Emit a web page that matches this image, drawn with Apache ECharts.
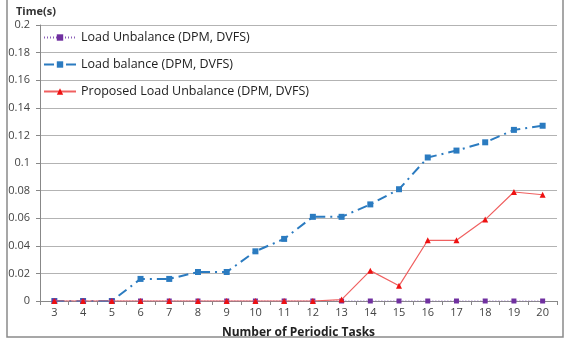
<!DOCTYPE html>
<html>
<head>
<meta charset="utf-8">
<title>Periodic tasks chart</title>
<script src="https://cdn.jsdelivr.net/npm/echarts@6/dist/echarts.min.js"></script>
<style>
  html, body { margin: 0; padding: 0; background: #fff; }
  #main { width: 565px; height: 342px; }
</style>
</head>
<body>
<div id="main"></div>
<script type="text/javascript">
// data
var tasks = ['3','4','5','6','7','8','9','10','11','12','13','14','15','16','17','18','19','20'];
var unbalance = [0,0,0,0,0,0,0,0,0,0,0,0,0,0,0,0,0,0];
var balance = [0,0,0,0.016,0.016,0.021,0.021,0.036,0.045,0.061,0.061,0.070,0.081,0.104,0.109,0.115,0.124,0.127];
var proposed = [0,0,0,0,0,0,0,0,0,0,0.001,0.022,0.011,0.044,0.044,0.059,0.079,0.077];
var seriesNames = ['Load Unbalance (DPM, DVFS)', 'Load balance (DPM, DVFS)', 'Proposed Load Unbalance (DPM, DVFS)'];

var chart = echarts.init(document.getElementById('main'));

chart.setOption({
    animation: false,
    textStyle: { fontFamily: 'Open Sans' },
    title: {
        text: 'Time(s)',
        left: 11, top: 1,
        textStyle: { fontSize: 11, fontWeight: 'bold', color: '#333' }
    },
    legend: {
        orient: 'vertical',
        left: 43, top: 31,
        padding: 0,
        itemWidth: 32, itemHeight: 8,
        itemGap: 14,
        textStyle: { fontSize: 12.5, color: '#222' },
        data: seriesNames
    },
    grid: { left: 40, right: 8, top: 25, bottom: 41, outerBoundsMode: 'none' },
    xAxis: {
        type: 'category',
        data: tasks,
        boundaryGap: true,
        name: 'Number of Periodic Tasks',
        nameLocation: 'middle',
        nameGap: 26,
        nameTextStyle: { fontSize: 12, fontWeight: 'bold', color: '#222' },
        axisLine: { lineStyle: { color: '#888', width: 1 } },
        axisTick: { show: true, length: 4, lineStyle: { color: '#888' } },
        axisLabel: { fontSize: 11, color: '#444', margin: 6 }
    },
    yAxis: {
        type: 'value',
        min: 0, max: 0.2, interval: 0.02,
        axisLine: { show: true, lineStyle: { color: '#888', width: 1 } },
        axisTick: { show: true, length: 4, lineStyle: { color: '#888' } },
        axisLabel: {
            fontSize: 11, color: '#444', margin: 10,
            formatter: function (v) { return String(+v.toFixed(2)); }
        },
        splitLine: { lineStyle: { color: '#b3b3b3', width: 1.2 } }
    },
    graphic: [{
        type: 'rect',
        shape: { x: 7, y: -2, width: 556, height: 339 },
        style: { fill: 'none', stroke: '#8a8a8a', lineWidth: 1.5 },
        silent: true
    }],
    series: [
        {
            name: seriesNames[0],
            type: 'line',
            data: unbalance,
            symbol: 'rect', symbolSize: 5,
            itemStyle: { color: '#7030a0' },
            lineStyle: { color: '#8a5cb8', width: 1, type: [1, 2] },
            z: 4
        },
        {
            name: seriesNames[1],
            type: 'line',
            data: balance,
            symbol: 'rect', symbolSize: 6,
            itemStyle: { color: '#2b7bc0' },
            lineStyle: { color: '#2b7bc0', width: 2, type: [10, 5, 2, 5] },
            z: 3
        },
        {
            name: seriesNames[2],
            type: 'line',
            data: proposed,
            symbol: 'triangle', symbolSize: 6,
            itemStyle: { color: '#ee1111' },
            lineStyle: { color: '#f06060', width: 1.2 },
            z: 5
        }
    ]
});
</script>
</body>
</html>
